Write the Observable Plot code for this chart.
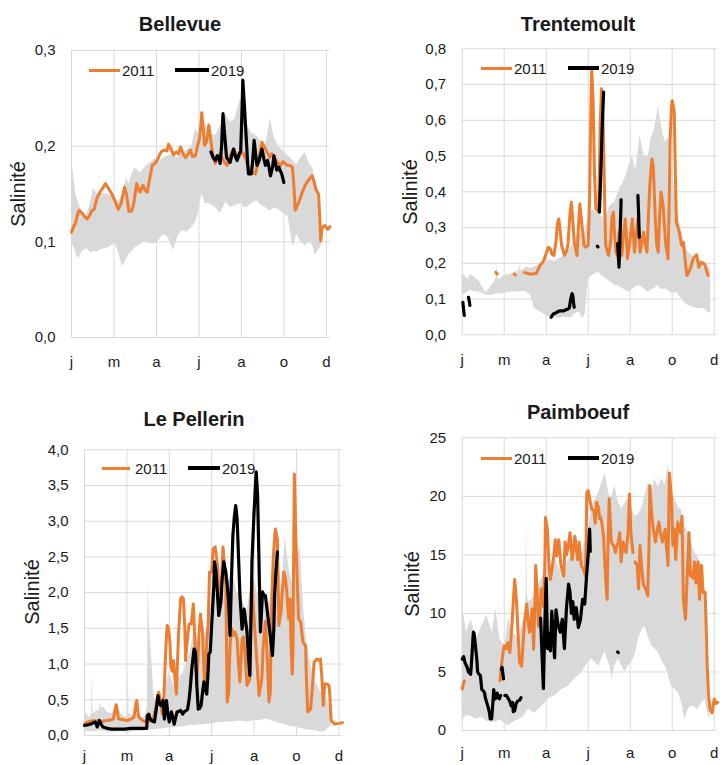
<!DOCTYPE html>
<html><head><meta charset="utf-8">
<script src="https://cdn.jsdelivr.net/npm/d3@7"></script>
<script src="https://cdn.jsdelivr.net/npm/@observablehq/plot@0.6"></script>
<style>
body{margin:0;background:#fff;}
#root{position:relative;width:720px;height:765px;overflow:hidden;font-family:"Liberation Sans",Arial,sans-serif;color:#1a1a1a;background:#fff;}
.panel{position:absolute;}
.title{position:absolute;font-weight:bold;font-size:20px;transform:translate(-50%,-50%);white-space:nowrap;}
.ylab{position:absolute;font-size:20px;transform:translate(-50%,-50%) rotate(-90deg);white-space:nowrap;}
.leg-line{position:absolute;}
.leg-text{position:absolute;font-size:15px;transform:translateY(-50%);white-space:nowrap;}
</style></head><body><div id="root"></div>
<script>
// ---- axis ticks (day of year; Excel date axis, major unit 60 days) ----
const xTickDays = [0, 60, 120, 180, 240, 300, 360];
const xTickLabels = ["j", "m", "a", "j", "a", "o", "d"];
const seriesNames = ["2011", "2019"];

// ---- Bellevue ----
const bellevueYTicks = [0, 0.1, 0.2, 0.3];
const bellevueBand = [[0,0.098,0.185],[3,0.095,0.170],[6,0.088,0.150],[10,0.082,0.141],[15,0.090,0.130],[22,0.093,0.127],[28,0.088,0.145],[31,0.090,0.156],[36,0.089,0.150],[42,0.092,0.151],[50,0.093,0.150],[56,0.096,0.148],[62,0.098,0.146],[66,0.090,0.141],[72,0.074,0.150],[78,0.082,0.167],[81,0.087,0.160],[86,0.090,0.172],[90,0.094,0.177],[97,0.097,0.172],[104,0.100,0.178],[110,0.098,0.182],[118,0.098,0.187],[124,0.102,0.183],[130,0.108,0.188],[137,0.104,0.190],[144,0.091,0.192],[150,0.105,0.188],[156,0.112,0.193],[163,0.110,0.196],[170,0.115,0.200],[175,0.120,0.218],[179,0.129,0.214],[184,0.150,0.206],[189,0.140,0.224],[194,0.140,0.215],[203,0.136,0.211],[210,0.130,0.220],[218,0.141,0.232],[225,0.136,0.225],[231,0.138,0.229],[239,0.140,0.250],[244,0.136,0.230],[248,0.136,0.222],[254,0.140,0.214],[262,0.143,0.210],[268,0.138,0.205],[274,0.136,0.200],[281,0.132,0.229],[286,0.135,0.210],[292,0.134,0.200],[299,0.130,0.195],[306,0.126,0.190],[313,0.094,0.185],[318,0.108,0.180],[324,0.100,0.188],[330,0.096,0.193],[337,0.101,0.180],[341,0.095,0.177],[344,0.086,0.165],[348,0.090,0.156],[352,0.094,0.140],[354,0.100,0.110]];
const bellevue2011 = [[0,0.110],[3,0.116],[6,0.120],[9,0.130],[11,0.133],[15,0.130],[19,0.126],[22,0.124],[26,0.128],[29,0.133],[32,0.134],[36,0.146],[41,0.153],[45,0.157],[48,0.161],[52,0.156],[57,0.150],[62,0.142],[66,0.134],[70,0.140],[75,0.157],[78,0.148],[81,0.132],[85,0.132],[88,0.140],[92,0.161],[95,0.154],[97,0.152],[101,0.159],[104,0.154],[107,0.152],[111,0.168],[114,0.180],[118,0.182],[121,0.185],[125,0.192],[128,0.195],[132,0.196],[135,0.195],[137,0.202],[140,0.198],[144,0.191],[148,0.194],[151,0.192],[154,0.199],[157,0.193],[161,0.188],[165,0.192],[168,0.196],[171,0.189],[175,0.190],[178,0.200],[181,0.209],[183,0.225],[184,0.235],[186,0.218],[188,0.201],[191,0.205],[194,0.222],[196,0.210],[199,0.194],[203,0.182],[206,0.186],[210,0.192],[214,0.186],[217,0.182],[220,0.180],[224,0.190],[229,0.197],[232,0.192],[236,0.188],[240,0.194],[243,0.192],[247,0.185],[250,0.178],[254,0.174],[257,0.172],[260,0.171],[264,0.185],[269,0.204],[272,0.200],[276,0.194],[280,0.188],[283,0.192],[286,0.188],[290,0.184],[295,0.180],[299,0.184],[304,0.180],[308,0.180],[312,0.178],[314,0.160],[316,0.133],[319,0.138],[322,0.143],[326,0.152],[330,0.159],[335,0.165],[340,0.169],[343,0.162],[345,0.155],[349,0.150],[351,0.120],[352,0.101],[354,0.115],[358,0.117],[362,0.113],[365,0.116]];
const bellevue2019 = [[197,0.194],[200,0.188],[203,0.185],[206,0.190],[208,0.188],[210,0.182],[212,0.200],[214,0.234],[216,0.215],[219,0.188],[222,0.185],[224,0.183],[227,0.192],[229,0.197],[232,0.188],[234,0.185],[237,0.192],[239,0.195],[241,0.240],[242,0.269],[244,0.245],[247,0.206],[249,0.180],[250,0.171],[254,0.171],[256,0.185],[258,0.206],[260,0.192],[262,0.180],[265,0.185],[269,0.197],[272,0.186],[274,0.180],[277,0.185],[279,0.178],[281,0.169],[284,0.178],[286,0.190],[288,0.183],[290,0.175],[293,0.178],[295,0.174],[297,0.171],[300,0.162]];

// ---- Trentemoult ----
const trentYTicks = [0, 0.1, 0.2, 0.3, 0.4, 0.5, 0.6, 0.7, 0.8];
const trentBand = [[0,0.11,0.17],[4,0.115,0.165],[8,0.12,0.155],[12,0.125,0.168],[18,0.12,0.16],[24,0.12,0.15],[30,0.115,0.13],[34,0.11,0.118],[39,0.11,0.13],[45,0.112,0.145],[49,0.115,0.16],[50,0.115,0.205],[51,0.115,0.155],[53,0.115,0.155],[60,0.115,0.165],[65,0.118,0.168],[72,0.12,0.17],[78,0.12,0.178],[81,0.12,0.18],[82,0.12,0.203],[83,0.122,0.18],[86,0.122,0.18],[92,0.12,0.19],[98,0.11,0.185],[103,0.075,0.19],[110,0.065,0.195],[115,0.06,0.2],[119,0.055,0.203],[125,0.05,0.21],[131,0.048,0.205],[138,0.046,0.213],[145,0.05,0.22],[151,0.048,0.235],[157,0.049,0.25],[162,0.06,0.27],[167,0.064,0.287],[172,0.045,0.28],[176,0.06,0.29],[180,0.157,0.33],[186,0.165,0.35],[194,0.175,0.34],[200,0.165,0.33],[205,0.157,0.325],[211,0.15,0.36],[218,0.138,0.371],[223,0.138,0.40],[228,0.13,0.418],[233,0.125,0.44],[238,0.119,0.47],[243,0.125,0.50],[248,0.135,0.46],[254,0.138,0.558],[260,0.128,0.50],[266,0.119,0.50],[270,0.125,0.55],[275,0.13,0.576],[280,0.138,0.637],[285,0.125,0.58],[290,0.129,0.539],[294,0.125,0.55],[297,0.12,0.53],[301,0.115,0.45],[306,0.119,0.371],[310,0.11,0.32],[314,0.10,0.287],[318,0.09,0.25],[323,0.082,0.231],[330,0.077,0.22],[337,0.073,0.213],[344,0.075,0.205],[351,0.063,0.194],[355,0.06,0.18]];
const trent2011 = [[48,0.175],[50,0.170],null,[74,0.170],[76,0.167],null,[89,0.174],[93,0.172],[96,0.170],[101,0.170],[106,0.172],[111,0.194],[116,0.205],[119,0.222],[123,0.245],[126,0.240],[128,0.226],[131,0.222],[134,0.260],[136,0.310],[138,0.324],[140,0.290],[142,0.250],[146,0.222],[149,0.235],[151,0.250],[154,0.340],[156,0.371],[158,0.320],[160,0.259],[162,0.240],[164,0.222],[166,0.300],[168,0.366],[170,0.330],[172,0.287],[174,0.250],[176,0.245],[180,0.250],[182,0.380],[184,0.650],[185,0.739],[187,0.660],[189,0.450],[191,0.352],[195,0.345],[197,0.580],[199,0.688],[201,0.610],[202,0.530],[204,0.330],[205,0.250],[209,0.222],[212,0.260],[214,0.330],[216,0.343],[218,0.269],[220,0.230],[222,0.222],[224,0.287],[226,0.250],[228,0.222],[231,0.290],[233,0.324],[235,0.260],[236,0.213],[238,0.240],[240,0.269],[243,0.324],[245,0.270],[246,0.231],[249,0.290],[251,0.324],[253,0.270],[254,0.231],[257,0.260],[259,0.287],[262,0.250],[264,0.231],[266,0.330],[268,0.418],[271,0.492],[273,0.470],[274,0.418],[276,0.320],[278,0.250],[280,0.231],[282,0.330],[284,0.399],[287,0.362],[289,0.300],[291,0.250],[294,0.213],[296,0.400],[297,0.548],[299,0.640],[300,0.655],[303,0.623],[304,0.500],[306,0.315],[310,0.287],[313,0.255],[314,0.250],[316,0.259],[319,0.200],[321,0.166],[326,0.185],[330,0.213],[333,0.220],[335,0.224],[338,0.189],[342,0.203],[345,0.200],[347,0.194],[351,0.166]];
const trent2019 = [[1,0.091],[2,0.070],[3,0.054],null,[9,0.105],[10,0.095],[11,0.082],null,[127,0.049],[130,0.058],[133,0.060],[135,0.063],[138,0.066],[140,0.067],[145,0.067],[148,0.070],[150,0.071],[153,0.075],[155,0.100],[157,0.115],[158,0.110],[159,0.090],[160,0.077],null,[193,0.248],[194,0.246],null,[196,0.343],[198,0.450],[200,0.580],[202,0.679],null,[222,0.255],[224,0.189],[225,0.240],[227,0.378],null,[251,0.390],[252,0.340],[253,0.273]];

// ---- Le Pellerin ----
const pellYTicks = [0, 0.5, 1, 1.5, 2, 2.5, 3, 3.5, 4];
const pellBand = [[0,0.07,0.60],[1,0.06,0.35],[3,0.06,0.30],[7,0.05,0.25],[10,0.05,0.30],[11,0.05,0.86],[12,0.05,0.30],[18,0.06,0.35],[21,0.07,0.35],[22,0.07,0.47],[24,0.06,0.38],[27,0.06,0.40],[32,0.05,0.33],[38,0.05,0.30],[46,0.05,0.42],[52,0.06,0.30],[58,0.05,0.25],[61,0.05,0.30],[62,0.05,0.90],[63,0.05,0.30],[70,0.05,0.28],[76,0.06,0.30],[82,0.06,0.25],[86,0.07,0.28],[89,0.08,0.40],[90,0.08,2.15],[92,0.08,1.50],[95,0.08,1.10],[98,0.08,0.60],[100,0.08,0.51],[105,0.09,0.55],[110,0.09,0.50],[115,0.10,0.70],[120,0.11,0.89],[126,0.11,0.70],[131,0.12,0.79],[138,0.12,0.85],[145,0.13,1.03],[150,0.14,1.20],[155,0.14,1.45],[162,0.15,1.30],[169,0.15,1.35],[175,0.16,1.60],[181,0.16,1.96],[188,0.18,2.19],[195,0.18,2.00],[202,0.19,2.10],[209,0.19,2.30],[216,0.20,2.00],[223,0.20,1.90],[230,0.19,1.73],[236,0.20,2.10],[240,0.21,2.20],[247,0.21,1.90],[253,0.22,2.00],[258,0.23,1.80],[263,0.21,1.90],[268,0.20,2.60],[273,0.18,2.70],[279,0.16,2.00],[284,0.15,2.78],[290,0.13,2.30],[295,0.12,2.10],[300,0.12,2.40],[305,0.10,2.66],[310,0.09,1.80],[315,0.08,1.26],[320,0.07,1.00],[325,0.07,0.79],[330,0.06,0.70],[334,0.05,0.61],[340,0.05,0.55],[343,0.08,0.51],[347,0.12,0.40],[350,0.14,0.23]];
const pell2011 = [[0,0.16],[5,0.19],[13,0.21],[22,0.196],[32,0.21],[38,0.22],[41,0.233],[44,0.40],[45,0.43],[47,0.30],[48,0.233],[55,0.22],[60,0.21],[66,0.23],[70,0.257],[73,0.45],[74,0.49],[76,0.30],[77,0.257],[82,0.21],[86,0.196],[92,0.20],[98,0.25],[102,0.45],[105,0.607],[108,0.45],[110,0.30],[112,0.45],[115,1.20],[117,1.54],[119,1.50],[121,1.30],[122,1.00],[124,0.90],[126,1.05],[128,0.80],[130,0.58],[133,1.40],[136,1.91],[138,1.94],[140,1.91],[142,1.50],[143,1.05],[146,1.40],[148,1.56],[151,1.56],[154,1.84],[156,1.40],[159,0.72],[162,1.40],[164,1.70],[167,1.45],[170,0.68],[173,1.30],[175,1.56],[177,2.29],[180,2.29],[182,2.61],[185,2.64],[188,2.40],[190,2.10],[192,1.80],[194,2.20],[196,2.64],[198,2.40],[200,2.10],[202,0.47],[204,0.60],[206,1.26],[208,1.50],[210,1.40],[213,1.45],[216,1.35],[218,1.00],[220,0.75],[223,1.35],[225,1.38],[227,1.17],[230,0.70],[234,0.79],[235,1.60],[237,2.19],[240,1.63],[244,1.03],[247,0.56],[251,0.79],[253,1.26],[256,1.60],[257,1.45],[259,1.00],[261,0.47],[263,0.60],[264,1.49],[267,2.47],[270,2.89],[273,2.75],[275,1.54],[278,1.73],[282,2.29],[284,2.22],[286,2.05],[289,1.63],[291,1.91],[292,1.40],[294,0.86],[295,1.17],[296,2.50],[297,3.66],[299,2.80],[301,2.19],[303,1.63],[306,1.59],[309,1.31],[311,1.28],[313,1.26],[314,0.80],[316,0.33],[320,0.37],[322,0.60],[325,1.03],[329,1.07],[332,1.05],[334,1.07],[336,0.80],[338,0.42],[340,0.72],[343,0.72],[346,0.70],[347,0.60],[349,0.21],[354,0.16],[360,0.17],[365,0.18]];
const pell2019 = [[0,0.14],[5,0.15],[9,0.16],[13,0.18],[15,0.19],[17,0.15],[18,0.12],[20,0.18],[21,0.21],[24,0.15],[26,0.12],[32,0.10],[38,0.09],[50,0.09],[57,0.09],[65,0.10],[76,0.10],[88,0.10],[89,0.28],[91,0.30],[93,0.23],[96,0.20],[99,0.19],[102,0.40],[104,0.56],[106,0.45],[108,0.42],[111,0.49],[113,0.23],[116,0.49],[118,0.30],[120,0.19],[123,0.33],[125,0.25],[127,0.16],[129,0.25],[131,0.33],[134,0.34],[136,0.35],[139,0.30],[141,0.33],[144,0.35],[146,0.37],[148,0.50],[150,0.70],[152,0.95],[155,1.21],[157,1.17],[159,0.70],[161,0.37],[163,0.38],[165,0.42],[167,0.60],[169,0.75],[171,0.65],[173,0.58],[175,0.90],[176,1.14],[178,1.17],[180,1.55],[181,1.73],[183,2.10],[184,2.43],[186,2.30],[188,2.01],[190,1.68],[193,1.87],[195,2.20],[197,2.43],[200,2.29],[202,2.10],[204,1.87],[206,1.40],[208,2.20],[210,2.80],[212,3.05],[214,3.22],[216,3.03],[218,2.50],[220,1.96],[223,1.49],[226,1.77],[228,1.60],[230,1.45],[232,1.10],[234,0.84],[236,1.80],[237,2.43],[240,3.13],[243,3.69],[245,3.36],[247,2.40],[249,1.45],[252,2.01],[254,1.96],[256,1.96],[258,1.80],[260,1.63],[263,1.40],[266,1.12],[268,1.50],[269,1.96],[271,2.30],[273,2.57]];

// ---- Paimboeuf ----
const paimYTicks = [0, 5, 10, 15, 20, 25];
const paimBand = [[0,0.7,14.1],[2,1.0,10.0],[6,1.3,8.4],[13,1.2,9.5],[20,1.0,7.8],[28,1.1,8.9],[35,0.8,9.8],[43,0.7,8.4],[48,0.7,10.4],[54,0.9,7.8],[61,0.6,7.2],[66,0.4,9.5],[73,0.7,8.4],[80,0.9,7.8],[88,1.2,9.5],[91,1.5,10.0],[92,1.6,18.0],[93,1.7,11.5],[95,1.8,11.0],[100,1.6,11.2],[104,1.5,11.5],[109,1.8,12.4],[114,2.1,13.0],[123,2.7,14.1],[133,3.0,14.6],[142,3.5,13.5],[152,3.8,14.6],[161,4.4,16.1],[171,5.0,15.2],[180,5.8,16.9],[185,6.1,19.2],[195,5.5,20.3],[204,6.7,22.0],[211,5.5,19.8],[214,4.4,20.0],[218,5.5,20.9],[223,6.1,19.5],[228,5.5,18.9],[233,5.0,19.5],[237,5.5,19.8],[242,5.8,19.0],[247,6.5,18.3],[252,7.8,18.5],[256,8.5,18.9],[261,8.9,20.0],[266,8.0,21.2],[271,7.2,20.5],[275,7.0,21.5],[280,6.7,20.8],[285,6.0,21.5],[290,5.5,21.0],[294,4.8,22.6],[299,3.8,20.5],[304,3.5,19.8],[309,3.2,19.0],[313,2.5,18.9],[318,1.0,17.5],[323,1.8,16.9],[328,2.1,16.0],[332,2.0,15.2],[337,1.8,14.8],[342,2.3,14.1],[347,2.7,12.0],[349,2.0,9.5],[352,1.2,5.0],[354,1.0,2.7]];
const paim2011 = [[0,3.53],[2,4.0],[3,4.24],null,[54,4.24],[56,5.52],[58,6.5],[60,7.23],[63,7.0],[65,7.5],[68,6.66],[71,8.94],[73,11.0],[75,12.9],[77,11.5],[78,10.6],[80,8.0],[82,5.8],[85,5.5],[87,7.5],[89,9.2],[92,10.8],[94,9.5],[96,8.4],[98,9.0],[100,10.4],[102,6.95],[104,11.0],[105,14.1],[107,12.0],[109,8.9],[111,10.0],[113,12.1],[116,10.6],[118,14.0],[119,18.2],[121,17.5],[122,16.9],[124,14.0],[126,12.9],[129,14.1],[131,15.0],[133,16.3],[135,14.9],[138,16.3],[141,14.1],[145,13.2],[147,16.1],[149,15.0],[151,15.5],[154,16.9],[157,14.6],[159,15.5],[161,16.6],[163,15.5],[165,14.6],[167,16.1],[170,14.1],[173,13.8],[176,13.2],[177,16.0],[178,20.3],[180,20.5],[183,19.5],[185,18.9],[188,18.8],[190,17.7],[192,19.5],[195,19.0],[196,18.1],[198,18.2],[200,17.5],[202,16.5],[204,14.0],[206,12.0],[207,11.2],[208,15.0],[210,19.8],[213,16.1],[216,15.8],[219,15.2],[221,15.8],[223,16.1],[225,16.9],[227,14.4],[230,16.1],[232,15.5],[234,15.2],[237,16.9],[239,20.2],[241,16.9],[244,15.2],null,[247,14.4],[250,14.1],[252,12.1],[254,15.8],[257,13.5],[259,12.4],[262,12.1],[265,11.5],[267,16.0],[268,20.9],[271,18.3],[273,17.2],[276,16.1],[278,16.9],[281,17.8],[283,16.9],[286,16.1],[290,17.2],[292,15.5],[294,14.1],[295,18.0],[296,22.0],[299,19.8],[301,15.8],[303,17.2],[305,14.6],[308,17.8],[310,17.0],[312,16.9],[314,18.3],[316,11.2],[319,9.5],[321,12.6],[324,16.9],[326,13.2],[328,13.5],[330,13.0],[332,14.4],[334,12.6],[337,14.4],[339,11.2],[342,14.1],[344,11.8],[347,11.8],[349,8.0],[350,5.5],[352,3.0],[354,1.8],[357,1.5],[360,2.7],[362,2.3],[365,2.4]];
const paim2019 = [[0,6.1],[2,6.3],[4,5.8],[7,5.4],[9,5.0],[12,4.8],[13,5.5],[15,7.5],[16,8.4],[17,8.3],[19,7.2],[21,6.0],[22,5.0],[24,4.8],[26,4.7],[28,3.5],[30,3.4],[32,3.2],[33,2.8],[35,2.4],[37,2.0],[39,1.5],[40,1.0],[42,1.0],[44,2.5],[45,3.5],[47,2.7],[50,3.2],[51,2.8],[53,2.7],[55,3.0],null,[56,5.2],[57,5.4],[59,4.4],null,[61,3.0],[63,3.0],[66,2.7],[68,2.5],[70,2.1],[72,2.4],[73,1.6],[75,1.7],[77,2.3],[79,2.5],null,[82,2.6],[84,2.8],null,[112,9.6],[114,6.5],[116,3.6],[118,9.0],[120,13.0],[122,7.0],[124,8.3],[126,6.8],[128,10.2],[130,8.0],[132,6.2],[134,10.3],[137,9.0],[140,8.4],[143,9.5],[146,7.0],[149,10.5],[152,12.5],[154,11.8],[156,10.0],[158,11.0],[160,9.5],[163,10.5],[166,8.8],[169,9.5],[172,11.2],[175,10.8],[178,13.5],[180,15.0],[182,17.2],[183,15.3],null,[222,6.7],[223,6.65]];

// ---- build ----
const ORANGE = "#ED7D31", BLACK = "#000000", GREY = "#d9d9d9";
const fmtComma = d => d3.format(".1f")(d).replace(".", ",");
const fmtInt = d => d3.format("d")(d);
const xLabel = new Map(xTickDays.map((d, i) => [d, xTickLabels[i]]));

function segs(arr) {
  let s = 0; const out = [];
  for (const p of arr) { if (p === null) { s++; continue; } out.push({x: p[0], y: p[1], seg: s}); }
  return out;
}

const panels = [
  {name: "Bellevue", band: bellevueBand, a: bellevue2011, b: bellevue2019, ticks: bellevueYTicks, fmt: fmtComma,
   left: 0, top: 0, h: 380, m: [50, 30.6, 43, 71], xpad: 19,
   title: [180, 24], ylab: [18, 194], leg: [89, 120, 122, 175, 209, 211, 70]},
  {name: "Trentemoult", band: trentBand, a: trent2011, b: trent2019, ticks: trentYTicks, fmt: fmtComma,
   left: 360, top: 0, h: 380, m: [48.3, 2.8, 45.7, 101.7], xpad: 20,
   title: [578, 24], ylab: [410, 192], leg: [481, 512, 514, 568, 599, 601, 68]},
  {name: "Le Pellerin", band: pellBand, a: pell2011, b: pell2019, ticks: pellYTicks, fmt: fmtComma,
   left: 0, top: 390, h: 375, m: [59.3, 18.1, 30, 84], xpad: 15,
   title: [194, 419], ylab: [32, 592], leg: [102, 130, 135, 188, 220, 222, 468]},
  {name: "Paimboeuf", band: paimBand, a: paim2011, b: paim2019, ticks: paimYTicks, fmt: fmtInt,
   left: 360, top: 390, h: 375, m: [47.3, 2.8, 35, 101.7], xpad: 17,
   title: [578, 412], ylab: [412, 584], leg: [481, 512, 514, 568, 599, 601, 458]}
];

const root = document.getElementById("root");
for (const p of panels) {
  const [mt, mr, mb, ml] = p.m;
  const chart = Plot.plot({
    width: 360, height: p.h,
    marginTop: mt, marginRight: mr, marginBottom: mb, marginLeft: ml,
    style: {fontFamily: '"Liberation Sans", Arial, sans-serif', fontSize: "15px", color: "#1a1a1a", background: "transparent", overflow: "visible"},
    x: {domain: [0, 365], ticks: xTickDays, tickFormat: d => xLabel.get(d), tickSize: 0, tickPadding: p.xpad, label: null},
    y: {domain: [p.ticks[0], p.ticks[p.ticks.length - 1]], ticks: p.ticks, tickFormat: p.fmt, tickSize: 0, tickPadding: 16, label: null},
    marks: [
      Plot.gridX(xTickDays, {stroke: GREY, strokeOpacity: 1, strokeWidth: 1}),
      Plot.gridY(p.ticks, {stroke: GREY, strokeOpacity: 1, strokeWidth: 1}),
      Plot.areaY(p.band, {x: d => d[0], y1: d => d[1], y2: d => d[2], fill: GREY, fillOpacity: 1}),
      Plot.line(segs(p.a), {x: "x", y: "y", z: "seg", stroke: ORANGE, strokeWidth: 3}),
      Plot.line(segs(p.b), {x: "x", y: "y", z: "seg", stroke: BLACK, strokeWidth: 3.2})
    ]
  });
  const wrap = document.createElement("div");
  wrap.className = "panel";
  wrap.style.left = p.left + "px"; wrap.style.top = p.top + "px";
  wrap.appendChild(chart);
  root.appendChild(wrap);

  const t = document.createElement("div");
  t.className = "title"; t.textContent = p.name;
  t.style.left = p.title[0] + "px"; t.style.top = p.title[1] + "px";
  root.appendChild(t);

  const yl = document.createElement("div");
  yl.className = "ylab"; yl.textContent = "Salinité";
  yl.style.left = p.ylab[0] + "px"; yl.style.top = p.ylab[1] + "px";
  root.appendChild(yl);

  const [o1, o2, ot, b1, b2, bt, ly] = p.leg;
  const items = [[o1, o2, ot, ORANGE, 3, seriesNames[0]], [b1, b2, bt, BLACK, 4, seriesNames[1]]];
  for (const [x1, x2, tx, col, th, label] of items) {
    const ln = document.createElement("div");
    ln.className = "leg-line";
    ln.style.left = x1 + "px"; ln.style.width = (x2 - x1) + "px";
    ln.style.top = (ly - th / 2) + "px"; ln.style.height = th + "px";
    ln.style.background = col;
    root.appendChild(ln);
    const tt = document.createElement("div");
    tt.className = "leg-text"; tt.textContent = label;
    tt.style.left = tx + "px"; tt.style.top = ly + "px";
    root.appendChild(tt);
  }
}
</script></body></html>
